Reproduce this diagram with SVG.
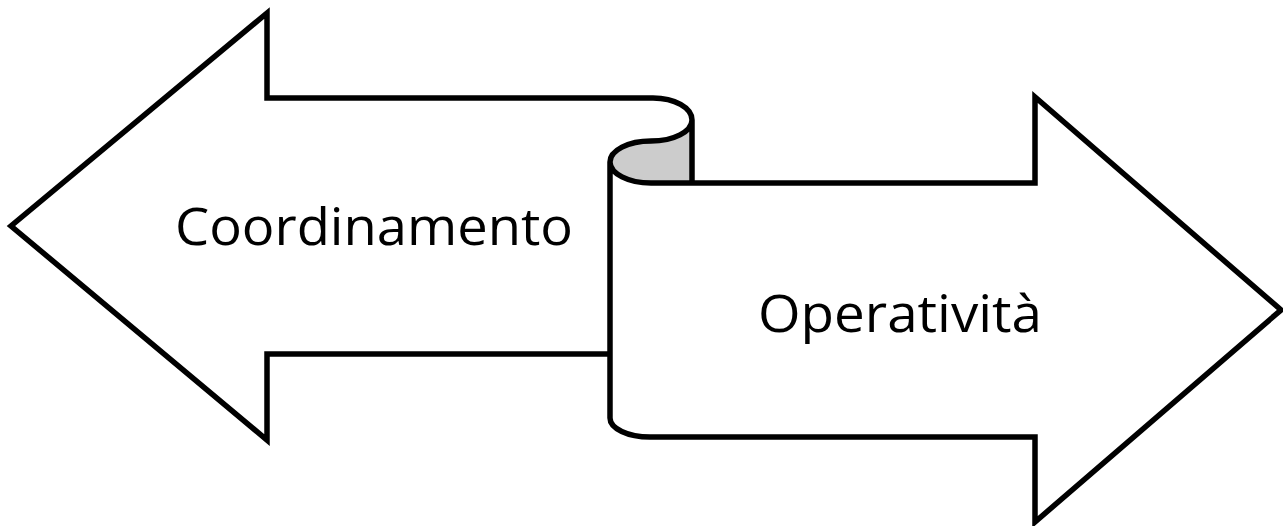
<svg xmlns="http://www.w3.org/2000/svg" width="1283" height="526" viewBox="0 0 1283 526">
<style>
.shape{fill:#ffffff;stroke:#000000;stroke-width:5.5;stroke-linejoin:miter}
.line{fill:none;stroke:#000000;stroke-width:5.5}
.curl{fill:#cccccc;stroke:none}
.lbl{font-family:"Open Sans","Noto Sans","Liberation Sans",sans-serif;font-size:51px;fill:#000000}
</style>
<rect width="1283" height="526" fill="#ffffff"/>
<g id="left-arrow">
<path class="shape" d="M 653,98 L 267,98 L 267,13 L 11,226 L 267,440 L 267,354 L 610,354"/>
</g>
<g id="scroll">
<path class="curl" d="M 692,120 A 41,21 0 0 1 651,141 A 41,21 0 0 0 610,162 A 41,21 0 0 0 651,183 L 692,183 Z"/>
<path class="shape" d="M 610,162 A 41,21 0 0 0 651,183 L 1035,183 L 1035,97 L 1281,310 L 1035,522 L 1035,437 L 650,437 A 40,19 0 0 1 610,418 Z"/>
<path class="line" d="M 653,98 A 39,22 0 0 1 692,120 A 41,21 0 0 1 651,141 A 41,21 0 0 0 610,162 M 692,120 L 692,183"/>
</g>
<g id="labels">
<text class="lbl" x="175" y="245" textLength="398" lengthAdjust="spacingAndGlyphs">Coordinamento</text>
<text class="lbl" x="758" y="332" textLength="284" lengthAdjust="spacingAndGlyphs">Operatività</text>
</g>
</svg>
